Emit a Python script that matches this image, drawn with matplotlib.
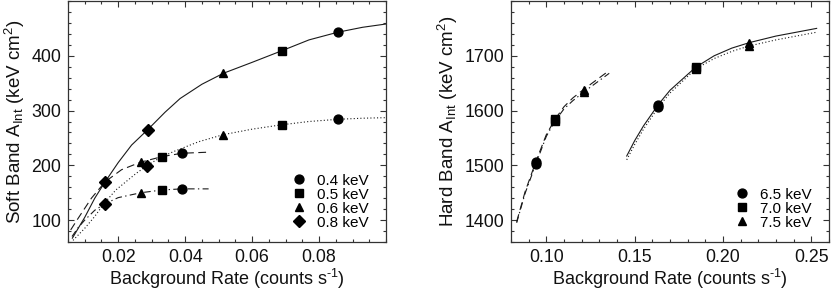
import matplotlib
matplotlib.use("Agg")
import matplotlib.pyplot as plt
from matplotlib.lines import Line2D
from matplotlib.ticker import MultipleLocator

plt.rcParams['font.family'] = ['Liberation Sans', 'DejaVu Sans']
plt.rcParams['mathtext.fontset'] = 'custom'
plt.rcParams['mathtext.rm'] = 'Liberation Sans'
plt.rcParams['mathtext.it'] = 'Liberation Sans'

# ---------------- Soft band (left panel) ----------------
soft_energies = ["0.4 keV", "0.5 keV", "0.6 keV", "0.8 keV"]

# marker points: (x, y) per energy for each curve
soft_solid_pts_x = [0.0856, 0.0688, 0.0514, 0.0288, 0.0161]
soft_solid_pts_y = [443, 409, 368, 265, 170]
soft_solid_pts_m = ["o", "s", "^", "D", "D"]

soft_dot_pts_x = [0.0856, 0.0688, 0.0514, 0.0285]
soft_dot_pts_y = [284, 274, 256, 199]
soft_dot_pts_m = ["o", "s", "^", "D"]

soft_dash_pts_x = [0.039, 0.0332, 0.0268]
soft_dash_pts_y = [222, 216, 206]
soft_dash_pts_m = ["o", "s", "^"]

soft_dd_pts_x = [0.039, 0.0332, 0.0268, 0.0161]
soft_dd_pts_y = [157, 155, 150, 130]
soft_dd_pts_m = ["o", "s", "^", "D"]

# curve traces
soft_solid_x = [0.0063, 0.010, 0.013, 0.0161, 0.020, 0.024, 0.0288, 0.034, 0.0385, 0.045, 0.0514, 0.060, 0.0688, 0.077, 0.0856, 0.093, 0.100]
soft_solid_y = [67, 105, 140, 170, 205, 237, 265, 297, 322, 348, 368, 388, 409, 429, 443, 452, 458]
soft_dot_x = [0.0065, 0.010, 0.0129, 0.0160, 0.0193, 0.0253, 0.0285, 0.0325, 0.0365, 0.044, 0.0514, 0.060, 0.0688, 0.077, 0.0856, 0.093, 0.100]
soft_dot_y = [63, 85, 106, 132, 155, 185, 199, 214, 225, 243, 256, 266, 274, 280, 284, 286, 287]
soft_dash_x = [0.0058, 0.008, 0.012, 0.0161, 0.021, 0.0268, 0.0332, 0.039, 0.047]
soft_dash_y = [82, 103, 140, 170, 192, 206, 216, 222, 224]
soft_dd_x = [0.0062, 0.008, 0.010, 0.013, 0.0161, 0.020, 0.0268, 0.0332, 0.039, 0.047]
soft_dd_y = [70, 86, 100, 118, 130, 141, 150, 155, 157, 157]

# ---------------- Hard band (right panel) ----------------
hard_energies = ["6.5 keV", "7.0 keV", "7.5 keV"]
hard_markers = ["o", "s", "^"]

hard_pts_x_low = [0.094, 0.1049, 0.1213]
hard_dash_pts_y = [1506, 1584, 1638]
hard_dd_pts_y = [1502, 1581, 1634]
hard_pts_x_high = [0.1634, 0.1845, 0.2149]
hard_solid_pts_y = [1611, 1679, 1724]
hard_dot_pts_y = [1606, 1676, 1718]

hard_dash_x = [0.0832, 0.088, 0.094, 0.100, 0.1049, 0.110, 0.115, 0.1213, 0.128, 0.1356]
hard_dash_y = [1397, 1452, 1506, 1556, 1584, 1607, 1623, 1639, 1655, 1673]
hard_dd_x = [0.0832, 0.088, 0.094, 0.100, 0.1049, 0.110, 0.115, 0.1213, 0.128, 0.1356]
hard_dd_y = [1395, 1449, 1502, 1553, 1581, 1603, 1618, 1634, 1650, 1668]
hard_solid_x = [0.1455, 0.150, 0.155, 0.1634, 0.170, 0.1845, 0.195, 0.205, 0.2149, 0.230, 0.253]
hard_solid_y = [1517, 1545, 1572, 1611, 1637, 1679, 1700, 1714, 1724, 1736, 1750]
hard_dot_x = [0.1455, 0.150, 0.155, 0.1634, 0.170, 0.1845, 0.195, 0.205, 0.2149, 0.230, 0.253]
hard_dot_y = [1510, 1538, 1566, 1606, 1632, 1676, 1695, 1708, 1718, 1729, 1743]

INK = "#1a1a1a"
LW = 0.8
MS = {"o": 6.4, "s": 6.0, "^": 6.4, "D": 6.0}

fig = plt.figure(figsize=(8.31, 2.92), dpi=100)
ax1 = fig.add_axes([68/831, 1-242/292, 318/831, 241/292])
ax2 = fig.add_axes([511/831, 1-242/292, 318/831, 241/292])

dashed = (0, (7, 4))
dashdot = (0, (6, 3, 1.2, 3))
dotted = (0, (1, 2))

ax1.plot(soft_solid_x, soft_solid_y, color=INK, lw=LW, ls='-')
ax1.plot(soft_dot_x, soft_dot_y, color=INK, lw=LW, ls=dotted)
ax1.plot(soft_dash_x, soft_dash_y, color=INK, lw=LW, ls=dashed)
ax1.plot(soft_dd_x, soft_dd_y, color=INK, lw=LW, ls=dashdot)
for xs, ys, ms in [(soft_solid_pts_x, soft_solid_pts_y, soft_solid_pts_m),
                   (soft_dot_pts_x, soft_dot_pts_y, soft_dot_pts_m),
                   (soft_dash_pts_x, soft_dash_pts_y, soft_dash_pts_m),
                   (soft_dd_pts_x, soft_dd_pts_y, soft_dd_pts_m)]:
    for x, y, m in zip(xs, ys, ms):
        ax1.plot([x], [y], ls='none', marker=m, ms=MS[m], color='black', mec='black')

ax2.plot(hard_dash_x, hard_dash_y, color=INK, lw=LW, ls=dashed)
ax2.plot(hard_dd_x, hard_dd_y, color=INK, lw=LW, ls=dashdot)
ax2.plot(hard_solid_x, hard_solid_y, color=INK, lw=LW, ls='-')
ax2.plot(hard_dot_x, hard_dot_y, color=INK, lw=LW, ls=dotted)
for xs, ys in [(hard_pts_x_low, hard_dash_pts_y), (hard_pts_x_low, hard_dd_pts_y),
               (hard_pts_x_high, hard_solid_pts_y), (hard_pts_x_high, hard_dot_pts_y)]:
    for x, y, m in zip(xs, ys, hard_markers):
        ax2.plot([x], [y], ls='none', marker=m, ms=MS[m], color='black', mec='black')

ax1.set_xlim(0.005, 0.100)
ax1.set_ylim(60, 500)
ax1.xaxis.set_minor_locator(MultipleLocator(0.005))
ax1.yaxis.set_minor_locator(MultipleLocator(20))
ax1.set_xticks([0.02, 0.04, 0.06, 0.08])
ax1.set_xticklabels(["0.02", "0.04", "0.06", "0.08"])
ax1.set_yticks([100, 200, 300, 400])

ax2.set_xlim(0.080, 0.260)
ax2.set_ylim(1360, 1800)
ax2.xaxis.set_minor_locator(MultipleLocator(0.01))
ax2.yaxis.set_minor_locator(MultipleLocator(20))
ax2.set_xticks([0.10, 0.15, 0.20, 0.25])
ax2.set_xticklabels(["0.10", "0.15", "0.20", "0.25"])
ax2.set_yticks([1400, 1500, 1600, 1700])

for ax in (ax1, ax2):
    for s in ax.spines.values():
        s.set_linewidth(0.9)
        s.set_color('#333333')
    ax.tick_params(which='both', direction='in', top=True, right=True, colors='#333333', labelcolor='#111111', labelsize=12.8, width=0.8)
    ax.tick_params(which='major', length=4.5, pad=5)
    ax.tick_params(which='minor', length=2.5)
    ax.set_xlabel("Background Rate (counts s$^{\\text{-1}}$)", fontsize=13, labelpad=1, color='#111111')

ax1.set_ylabel("Soft Band A$_{\\rm Int}$ (keV cm$^2$)", fontsize=13.5, labelpad=3, color='#111111')
ax2.set_ylabel("Hard Band A$_{\\rm Int}$ (keV cm$^2$)", fontsize=13.5, labelpad=3, color='#111111')

soft_markers = ["o", "s", "^", "D"]
h1 = [Line2D([], [], ls='none', marker=m, ms=MS[m], color='black') for m in soft_markers]
ax1.legend(h1, soft_energies, loc='lower right', bbox_to_anchor=(0.985, 0.0), frameon=False,
           fontsize=11, handlelength=1.0, handletextpad=0.7, labelspacing=0.0, borderpad=0.3)
h2 = [Line2D([], [], ls='none', marker=m, ms=MS[m], color='black') for m in hard_markers]
ax2.legend(h2, hard_energies, loc='lower right', bbox_to_anchor=(0.985, 0.0), frameon=False,
           fontsize=11, handlelength=1.0, handletextpad=0.7, labelspacing=0.0, borderpad=0.3)

fig.savefig("out.png", dpi=100)
